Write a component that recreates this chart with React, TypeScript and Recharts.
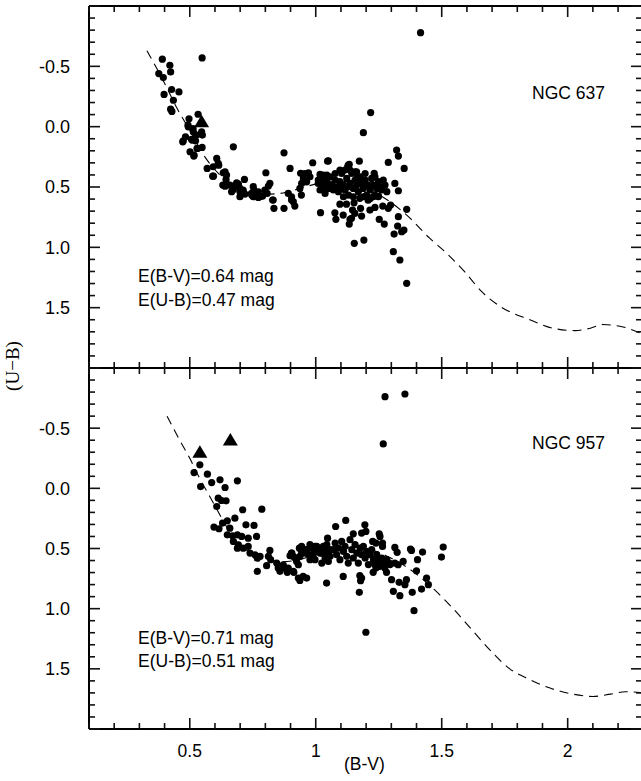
import React from "react";
import { ScatterChart, Scatter, XAxis, YAxis } from "recharts";

// axis ticks (every 0.1), the labelled ones are listed separately
const bvTicks = [0.1, 0.2, 0.3, 0.4, 0.5, 0.6, 0.7, 0.8, 0.9, 1.0, 1.1, 1.2, 1.3, 1.4, 1.5, 1.6, 1.7, 1.8, 1.9, 2.0, 2.1, 2.2];
const ubTicks = [-1.0, -0.9, -0.8, -0.7, -0.6, -0.5, -0.4, -0.3, -0.2, -0.1, 0.0, 0.1, 0.2, 0.3, 0.4, 0.5, 0.6, 0.7, 0.8, 0.9, 1.0, 1.1, 1.2, 1.3, 1.4, 1.5, 1.6, 1.7, 1.8, 1.9, 2.0];
const bvLabels = ["0.5", "1", "1.5", "2"];
const ubLabels = ["-0.5", "0.0", "0.5", "1.0", "1.5"];

// NGC 637
const ngc637Stars: [number, number][] = [
  [0.391, -0.559], [0.549, -0.57], [0.421, -0.509], [0.377, -0.44], [0.424, -0.454], [0.395, -0.407],
  [0.398, -0.267], [0.428, -0.308], [0.457, -0.288], [0.435, -0.219], [0.424, -0.145], [0.429, -0.126],
  [0.533, -0.103], [0.497, -0.065], [0.493, -0.012], [0.513, 0.015], [0.483, 0.084], [0.474, 0.118],
  [0.511, 0.112], [0.55, 0.07], [0.527, 0.07], [0.529, 0.18], [0.549, 0.172], [0.501, 0.208],
  [0.516, 0.244], [0.673, 0.167], [0.607, 0.263], [0.569, 0.346], [0.615, 0.319], [0.594, 0.41],
  [0.633, 0.382], [0.644, 0.437], [0.631, 0.484], [0.671, 0.492], [0.693, 0.476], [0.717, 0.437],
  [0.699, 0.54], [0.719, 0.559], [0.746, 0.567], [0.772, 0.54], [0.802, 0.382], [0.812, 0.492],
  [0.779, 0.58], [0.752, 0.497],
  [0.494, 0.001], [0.514, 0.043], [0.547, 0.043], [0.472, 0.126], [0.507, 0.106], [0.523, 0.117],
  [0.53, 0.181], [0.517, 0.236], [0.613, 0.305], [0.593, 0.332], [0.591, 0.41], [0.64, 0.374],
  [0.646, 0.401], [0.64, 0.493], [0.659, 0.484], [0.686, 0.465], [0.697, 0.504], [0.712, 0.526],
  [0.699, 0.581], [0.673, 0.52], [0.666, 0.539], [0.745, 0.553], [0.755, 0.526], [0.752, 0.581],
  [0.772, 0.586], [0.798, 0.526], [0.818, 0.47], [0.831, 0.608], [0.874, 0.217], [0.898, 0.346],
  [0.874, 0.677], [0.834, 0.677], [0.891, 0.553], [0.904, 0.581], [0.911, 0.622], [0.917, 0.658],
  [0.937, 0.512], [0.944, 0.47], [0.951, 0.429], [0.957, 0.388], [0.988, 0.299], [0.964, 0.457],
  [0.977, 0.415], [1.01, 0.443], [1.019, 0.713], [1.03, 0.401], [1.043, 0.443], [1.023, 0.47],
  [1.189, 0.05], [1.05, 0.283], [1.173, 0.286], [1.133, 0.313], [1.321, 0.194], [1.328, 0.244],
  [1.288, 0.296], [1.351, 0.346], [0.94, 0.387], [0.971, 0.382], [1.017, 0.396], [1.232, 0.387],
  [0.807, 0.553], [0.789, 0.575], [0.829, 0.608], [0.904, 0.608], [0.943, 0.567], [1.096, 0.642],
  [1.076, 0.714], [1.08, 0.768], [1.109, 0.733], [1.136, 0.768], [1.133, 0.807], [1.146, 0.691],
  [1.155, 0.719], [1.178, 0.677], [1.152, 0.631], [1.175, 0.594], [1.215, 0.691], [1.235, 0.669],
  [1.252, 0.768], [1.272, 0.807], [1.266, 0.658], [1.288, 0.677], [1.297, 0.65], [1.314, 0.47],
  [1.328, 0.531], [1.361, 0.685], [1.328, 0.746], [1.325, 0.823], [1.35, 0.857], [1.341, 0.871],
  [1.311, 0.89], [1.153, 0.967], [1.191, 0.94], [1.308, 1.036], [1.334, 1.105], [1.361, 1.298],
  [1.416, -0.779], [1.218, -0.117], [1.047, 0.286], [1.122, 0.642], [1.208, 0.609], [1.228, 0.581],
  [1.248, 0.581], [1.129, 0.319], [1.162, 0.374], [1.182, 0.741], [1.142, 0.76],
  [1.01, 0.47], [1.024, 0.443], [1.03, 0.498], [1.044, 0.456], [1.05, 0.512], [1.057, 0.415],
  [1.063, 0.484], [1.07, 0.525], [1.077, 0.443], [1.083, 0.498], [1.09, 0.539], [1.096, 0.456],
  [1.103, 0.388], [1.11, 0.484], [1.116, 0.525], [1.123, 0.429], [1.127, 0.332], [1.13, 0.567],
  [1.136, 0.47], [1.143, 0.388], [1.149, 0.512], [1.156, 0.443], [1.163, 0.484], [1.169, 0.539],
  [1.176, 0.415], [1.182, 0.47], [1.189, 0.512], [1.196, 0.443], [1.202, 0.567], [1.209, 0.484],
  [1.216, 0.525], [1.222, 0.429], [1.229, 0.484], [1.235, 0.567], [1.242, 0.512], [1.249, 0.456],
  [1.255, 0.498], [1.262, 0.525], [1.268, 0.443], [1.275, 0.484], [1.282, 0.539], [1.116, 0.36],
  [1.096, 0.36], [1.136, 0.36], [1.156, 0.374], [1.077, 0.388], [1.044, 0.401], [1.196, 0.388],
  [1.017, 0.525], [1.037, 0.553], [1.11, 0.581], [1.149, 0.581], [1.189, 0.581], [1.216, 0.595],
  [1.249, 0.575], [1.096, 0.512], [1.13, 0.498], [1.163, 0.429], [1.235, 0.415],
];
const ngc637Blue: [number, number][] = [[0.547, -0.04]];
const ngc637Curve: [number, number][] = [
  [0.33, -0.63], [0.4, -0.36], [0.45, -0.15], [0.5, 0.03], [0.56, 0.25], [0.63, 0.42], [0.72, 0.52],
  [0.8, 0.56], [0.87, 0.55], [0.94, 0.51], [1.01, 0.47], [1.08, 0.45], [1.15, 0.47], [1.22, 0.53],
  [1.3, 0.63], [1.37, 0.75], [1.45, 0.92], [1.52, 1.05], [1.59, 1.2], [1.66, 1.37], [1.74, 1.5],
  [1.85, 1.6], [1.94, 1.67], [2.03, 1.69], [2.09, 1.67], [2.14, 1.64], [2.22, 1.66], [2.3, 1.72],
];

// NGC 957
const ngc957Stars: [number, number][] = [
  [1.275, -0.762], [1.354, -0.784], [1.268, -0.369],
  [0.54, -0.195], [0.517, -0.131], [0.57, -0.118], [0.543, -0.015], [0.587, -0.048], [0.62, -0.071],
  [0.64, -0.007], [0.689, -0.062], [0.613, 0.082], [0.626, 0.101], [0.644, 0.104], [0.607, 0.151],
  [0.71, 0.178], [0.786, 0.173], [0.679, 0.248], [0.649, 0.27], [0.63, 0.289], [0.659, 0.331],
  [0.596, 0.322], [0.616, 0.336], [0.723, 0.303], [0.755, 0.308], [0.649, 0.386], [0.67, 0.394],
  [0.689, 0.386], [0.706, 0.4], [0.732, 0.414], [0.765, 0.4], [0.673, 0.441], [0.693, 0.469],
  [0.712, 0.497], [0.732, 0.483], [0.689, 0.497], [0.739, 0.538], [0.759, 0.552], [0.768, 0.58],
  [0.779, 0.566], [0.812, 0.566], [0.818, 0.516], [0.768, 0.69], [0.805, 0.643], [0.845, 0.621],
  [0.851, 0.662], [0.871, 0.635], [0.891, 0.662], [0.904, 0.538], [0.911, 0.566], [0.924, 0.607],
  [0.913, 0.698], [0.931, 0.746], [0.935, 0.497],
  [0.821, 0.593], [0.858, 0.69], [0.878, 0.663], [0.887, 0.698], [0.898, 0.56], [0.95, 0.732],
  [0.964, 0.746], [0.937, 0.566], [0.944, 0.483], [0.953, 0.538], [0.964, 0.51], [0.977, 0.593],
  [0.99, 0.552], [0.997, 0.483], [1.01, 0.524], [1.024, 0.538], [1.03, 0.483], [1.04, 0.552],
  [1.05, 0.607], [1.056, 0.51], [1.043, 0.787],
  [1.119, 0.267], [1.079, 0.317], [1.195, 0.303], [1.149, 0.378], [1.182, 0.372], [1.199, 0.358],
  [1.252, 0.378], [1.255, 0.4], [1.047, 0.414], [1.226, 0.441], [1.239, 0.455], [1.265, 0.455],
  [1.265, 0.483], [1.314, 0.491], [1.323, 0.532], [1.376, 0.505], [1.38, 0.516], [1.424, 0.53],
  [1.506, 0.488], [1.499, 0.571], [1.404, 0.593], [1.314, 0.621], [1.327, 0.635], [1.347, 0.607],
  [1.4, 0.685], [1.44, 0.745], [1.447, 0.801], [1.36, 0.759], [1.354, 0.801], [1.331, 0.781],
  [1.301, 0.759], [1.42, 0.837], [1.383, 0.864], [1.334, 0.892], [1.308, 0.856], [1.39, 1.017],
  [1.173, 0.864], [1.199, 1.196], [1.109, 0.732], [1.175, 0.726], [1.182, 0.745], [1.178, 0.768],
  [1.228, 0.698], [1.281, 0.698], [1.274, 0.663], [1.248, 0.649], [1.239, 0.663], [1.292, 0.621],
  [0.937, 0.765], [0.931, 0.635], [0.911, 0.69],
  [0.905, 0.538], [0.918, 0.579], [0.938, 0.496], [0.944, 0.538], [0.958, 0.51], [0.971, 0.551],
  [0.977, 0.468], [0.991, 0.51], [0.997, 0.593], [1.004, 0.482], [1.017, 0.538], [1.024, 0.621],
  [1.03, 0.496], [1.037, 0.579], [1.044, 0.468], [1.05, 0.524], [1.057, 0.565], [1.07, 0.51],
  [1.077, 0.455], [1.083, 0.551], [1.09, 0.496], [1.096, 0.593], [1.103, 0.441], [1.11, 0.524],
  [1.116, 0.482], [1.123, 0.565], [1.129, 0.621], [1.136, 0.427], [1.143, 0.51], [1.149, 0.579],
  [1.156, 0.468], [1.163, 0.538], [1.169, 0.621], [1.176, 0.496], [1.182, 0.551], [1.189, 0.482],
  [1.196, 0.579], [1.202, 0.524], [1.209, 0.634], [1.215, 0.551], [1.222, 0.51], [1.229, 0.593],
  [1.235, 0.634], [1.242, 0.551], [1.249, 0.607], [1.255, 0.648], [1.262, 0.579], [1.268, 0.621],
  [1.282, 0.593], [1.295, 0.634],
];
const ngc957Blue: [number, number][] = [[0.54, -0.3], [0.661, -0.402]];
const ngc957Curve: [number, number][] = [
  [0.41, -0.6], [0.46, -0.4], [0.5, -0.25], [0.54, -0.08], [0.58, 0.07], [0.63, 0.26], [0.67, 0.4],
  [0.71, 0.49], [0.75, 0.54], [0.81, 0.59], [0.86, 0.61], [0.92, 0.6], [0.97, 0.57], [1.01, 0.54],
  [1.08, 0.51], [1.15, 0.49], [1.22, 0.51], [1.29, 0.57], [1.35, 0.64], [1.41, 0.73], [1.47, 0.84],
  [1.55, 1.01], [1.63, 1.2], [1.69, 1.34], [1.77, 1.5], [1.85, 1.59], [1.93, 1.66], [2.02, 1.71],
  [2.1, 1.73], [2.17, 1.71], [2.23, 1.69], [2.3, 1.7],
];

const SANS = "'Liberation Sans', Arial, Helvetica, sans-serif";
const SERIF = "'Liberation Serif', 'Times New Roman', serif";

const BV_DOMAIN: [number, number] = [0.1, 2.295];
const UB_DOMAIN: [number, number] = [-1, 2];
const TICK_COLOR = "#111";

const toRows = (pts: [number, number][]) => pts.map(([bv, ub]) => ({ bv, ub }));
const isMajor = (v: number) => Math.abs(v * 2 - Math.round(v * 2)) < 1e-6;
const findLabel = (labels: string[], v: number) => labels.find((l) => Math.abs(Number(l) - v) < 1e-6);

// inward ticks drawn by the tick renderer itself (plus the label where there is one)
function makeTick(side: "bottom" | "top" | "left" | "right", labels: string[] | null) {
  return (props: any) => {
    const x = Number(props.x);
    const y = Number(props.y);
    const v = Number(props.payload?.value);
    const len = isMajor(v) ? 11 : 6;
    const label = labels ? findLabel(labels, v) : undefined;
    let d = "";
    if (side === "bottom") d = `M${x},${y}L${x},${y - len}`;
    if (side === "top") d = `M${x},${y}L${x},${y + len}`;
    if (side === "left") d = `M${x},${y}L${x + len},${y}`;
    if (side === "right") d = `M${x},${y}L${x - len},${y}`;
    return (
      <g>
        <path d={d} stroke={TICK_COLOR} strokeWidth={1.6} fill="none" />
        {label && side === "bottom" && (
          <text x={x} y={y + 28} textAnchor="middle" fontFamily={SANS} fontSize={17.5} fill="#000">{label}</text>
        )}
        {label && side === "left" && (
          <text x={x - 19} y={y + 6.4} textAnchor="end" fontFamily={SANS} fontSize={18} fill="#000">{label}</text>
        )}
      </g>
    );
  };
}

const dot = (p: any) => <circle cx={p.cx} cy={p.cy} r={3.6} fill="#000" />;
const triangle = (p: any) => (
  <path d={`M${p.cx},${p.cy - 7} L${p.cx + 7.5},${p.cy + 5.5} L${p.cx - 7.5},${p.cy + 5.5} Z`} fill="#000" />
);
const nothing = () => <g />;

function Panel({ stars, blue, curve, height, margin, showLabels }: any) {
  const axis = { stroke: "#000", strokeWidth: 2 };
  return (
    <ScatterChart width={700} height={height} margin={margin}>
      <XAxis xAxisId="b" dataKey="bv" type="number" domain={BV_DOMAIN} ticks={bvTicks} interval={0}
        orientation="bottom" height={1} tickSize={0} tickMargin={0} axisLine={axis} tickLine={false}
        tick={makeTick("bottom", showLabels ? bvLabels : null)} allowDataOverflow />
      <XAxis xAxisId="t" dataKey="bv" type="number" domain={BV_DOMAIN} ticks={bvTicks} interval={0}
        orientation="top" height={1} tickSize={0} tickMargin={0} axisLine={axis} tickLine={false}
        tick={makeTick("top", null)} allowDataOverflow />
      <YAxis yAxisId="l" dataKey="ub" type="number" domain={UB_DOMAIN} reversed ticks={ubTicks} interval={0}
        orientation="left" width={1} tickSize={0} tickMargin={0} axisLine={axis} tickLine={false}
        tick={makeTick("left", ubLabels)} allowDataOverflow />
      <YAxis yAxisId="r" dataKey="ub" type="number" domain={UB_DOMAIN} reversed ticks={ubTicks} interval={0}
        orientation="right" width={1} tickSize={0} tickMargin={0} axisLine={axis} tickLine={false}
        tick={makeTick("right", null)} allowDataOverflow />
      <Scatter xAxisId="b" yAxisId="l" data={toRows(curve)} shape={nothing}
        line={{ stroke: "#000", strokeWidth: 1.1, strokeDasharray: "9 6" }} lineJointType="monotoneX"
        isAnimationActive={false} />
      <Scatter xAxisId="b" yAxisId="l" data={toRows(stars)} shape={dot} isAnimationActive={false} />
      <Scatter xAxisId="b" yAxisId="l" data={toRows(blue)} shape={triangle} isAnimationActive={false} />
    </ScatterChart>
  );
}

const textStyle: React.CSSProperties = {
  position: "absolute", fontFamily: SANS, fontSize: 17.5, lineHeight: "17.5px", whiteSpace: "nowrap", color: "#000",
};

export default function App() {
  return (
    <div style={{ position: "fixed", left: 0, top: 0, width: 641, height: 781, overflow: "hidden", background: "#fff" }}>
      <div style={{ position: "absolute", left: 0, top: 0 }}>
        <Panel stars={ngc637Stars} blue={ngc637Blue} curve={ngc637Curve} height={369}
          margin={{ top: 5, right: 57, bottom: 0, left: 88 }} showLabels={false} />
      </div>
      <div style={{ position: "absolute", left: 0, top: 362 }}>
        <Panel stars={ngc957Stars} blue={ngc957Blue} curve={ngc957Curve} height={419}
          margin={{ top: 5, right: 57, bottom: 51, left: 88 }} showLabels={true} />
      </div>
      <div style={{ ...textStyle, left: 532, top: 85 }}>NGC 637</div>
      <div style={{ ...textStyle, left: 138, top: 268 }}>E(B-V)=0.64 mag</div>
      <div style={{ ...textStyle, left: 138, top: 292 }}>E(U-B)=0.47 mag</div>
      <div style={{ ...textStyle, left: 532, top: 435 }}>NGC 957</div>
      <div style={{ ...textStyle, left: 138, top: 630 }}>E(B-V)=0.71 mag</div>
      <div style={{ ...textStyle, left: 138, top: 653 }}>E(U-B)=0.51 mag</div>
      <div style={{ ...textStyle, left: 344, top: 756 }}>(B-V)</div>
      <div style={{ position: "absolute", left: 13, top: 366, transform: "translate(-50%, -50%) rotate(-90deg)",
        fontFamily: SERIF, fontSize: 19, whiteSpace: "nowrap", color: "#000" }}>(U−B)</div>
    </div>
  );
}
